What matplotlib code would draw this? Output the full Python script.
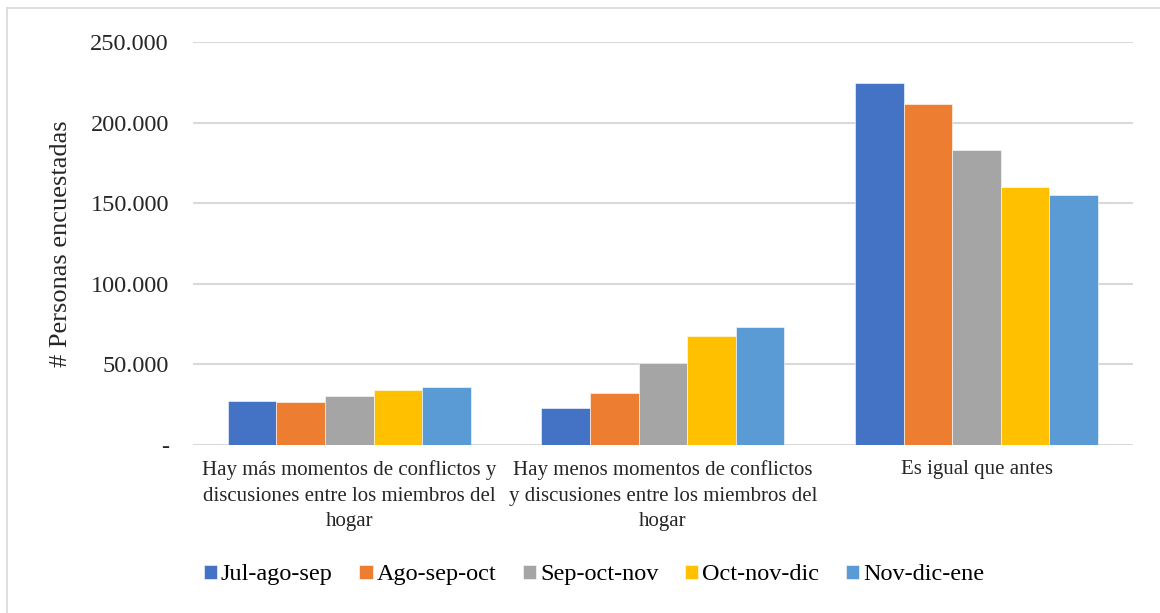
import numpy as np
import matplotlib
matplotlib.use("Agg")
import matplotlib.pyplot as plt
from matplotlib.lines import Line2D

plt.rcParams['font.family'] = ['Liberation Serif', 'DejaVu Serif']

categories = ["Hay más momentos de conflictos y\ndiscusiones entre los miembros del\nhogar",
              "Hay menos momentos de conflictos\ny discusiones entre los miembros del\nhogar",
              "Es igual que antes"]
series = ["Jul-ago-sep", "Ago-sep-oct", "Sep-oct-nov", "Oct-nov-dic", "Nov-dic-ene"]
jul_ago_sep = [27100, 23100, 225000]
ago_sep_oct = [26700, 32100, 212000]
sep_oct_nov = [30600, 50900, 183200]
oct_nov_dic = [34100, 67800, 160000]
nov_dic_ene = [35800, 73200, 154900]
colors = ["#4472C4", "#ED7D31", "#A5A5A5", "#FFC000", "#5B9BD5"]

values = [jul_ago_sep, ago_sep_oct, sep_oct_nov, oct_nov_dic, nov_dic_ene]

fig = plt.figure(figsize=(11.6, 6.13), dpi=100)
ax = fig.add_axes([0.166, 0.274, 0.811, 0.657])

x = np.arange(len(categories))
w = 0.155
for i, (name, vals) in enumerate(zip(series, values)):
    ax.bar(x + (i - 2) * w, vals, width=w, color=colors[i], label=name,
           edgecolor="white", linewidth=0.4, zorder=3)

ax.set_xlim(-0.5, 2.5)
ax.set_ylim(0, 250000)
yt = [0, 50000, 100000, 150000, 200000, 250000]
ax.set_yticks(yt)
ax.set_yticklabels(["-" if v == 0 else f"{v:,}".replace(",", ".") for v in yt])
ax.set_xticks(x)
ax.set_xticklabels(categories, fontsize=15, linespacing=1.45)
ax.tick_params(axis='both', length=0, colors="#262626")
ax.tick_params(axis='y', labelsize=17.5, pad=17)
ax.tick_params(axis='x', pad=11)
ax.grid(axis='y', color="#D9D9D9", linewidth=1.5, zorder=0)
for s in ax.spines.values():
    s.set_visible(False)
ax.set_ylabel("# Personas encuestadas", fontsize=19, color="#262626", labelpad=13)

fig.legend(loc="center", bbox_to_anchor=(0.512, 0.062), ncol=5, frameon=False,
           fontsize=17.5, handlelength=0.55, handleheight=0.55, handletextpad=0.15,
           columnspacing=1.1)

# light frame on top and left only
fig.add_artist(Line2D([0.006, 1.0], [0.987, 0.987], transform=fig.transFigure,
                      color="#D9D9D9", linewidth=1.2))
fig.add_artist(Line2D([0.006, 0.006], [0.0, 0.987], transform=fig.transFigure,
                      color="#D9D9D9", linewidth=1.2))

fig.savefig("out.png", dpi=100)
